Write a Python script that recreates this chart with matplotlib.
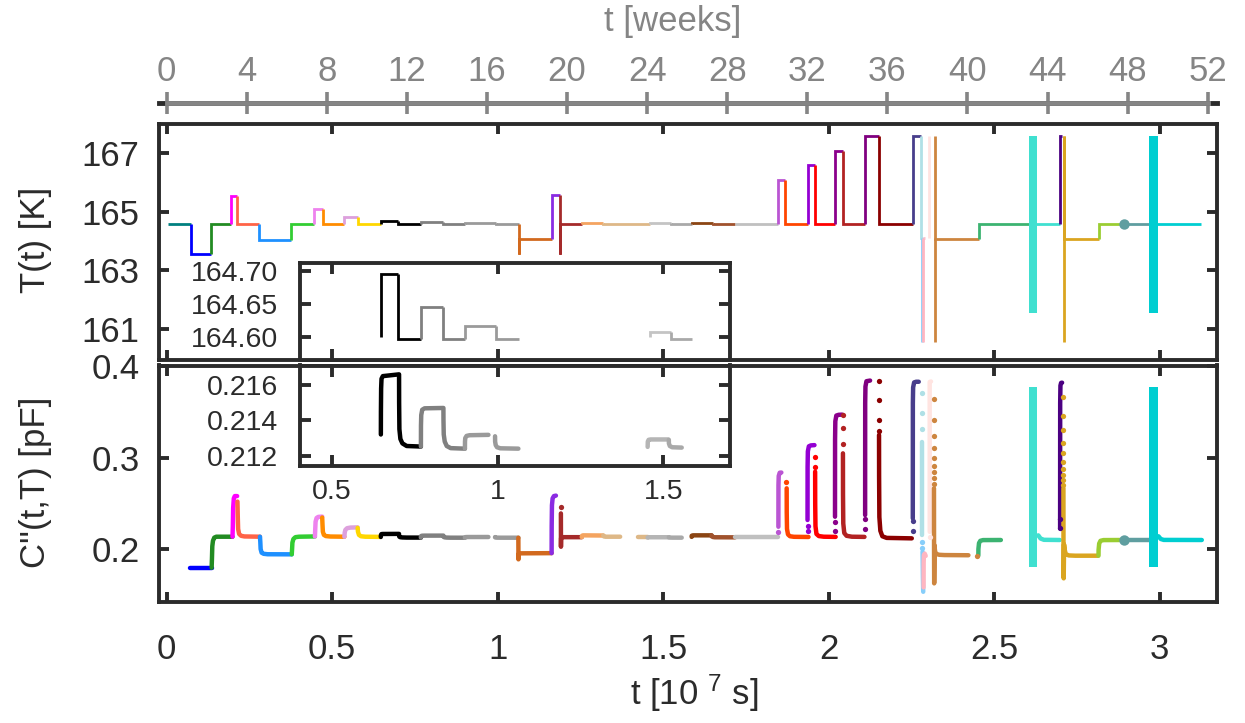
import matplotlib
matplotlib.use('Agg')
import matplotlib.pyplot as plt

plt.rcParams['font.family'] = ['Liberation Sans', 'DejaVu Sans']
plt.rcParams['mathtext.default'] = 'regular'

FRAME = '#2b2b2b'
GREY = '#858585'

# ---------------- data (t in 1e7 s) ----------------
# temperature programme: step segments
seg_t0 = [0.005, 0.073, 0.133, 0.196, 0.214, 0.280, 0.375, 0.444, 0.471, 0.537, 0.577,
          0.647, 0.700, 0.767, 0.836, 0.900, 0.994, 1.063, 1.163, 1.188, 1.254, 1.319,
          1.460, 1.523, 1.586, 1.649, 1.717, 1.848, 1.867, 1.938, 1.959, 2.019, 2.044,
          2.109, 2.151, 2.254, 2.278, 2.284, 2.320, 2.453, 2.606, 2.698, 2.710, 2.815,
          2.885, 2.975]
seg_t1 = [0.073, 0.133, 0.196, 0.214, 0.280, 0.375, 0.444, 0.471, 0.537, 0.577, 0.647,
          0.700, 0.767, 0.836, 0.900, 0.994, 1.063, 1.163, 1.188, 1.254, 1.319, 1.460,
          1.523, 1.586, 1.649, 1.717, 1.848, 1.867, 1.938, 1.959, 2.019, 2.044, 2.109,
          2.151, 2.254, 2.278, 2.284, 2.291, 2.453, 2.606, 2.698, 2.705, 2.815, 2.885,
          2.975, 3.124]
seg_T = [164.6, 163.55, 164.6, 165.55, 164.6, 164.05, 164.6, 165.1, 164.6, 164.83, 164.6,
         164.695, 164.597, 164.645, 164.597, 164.617, 164.597, 164.06, 165.59, 164.6,
         164.62, 164.6, 164.608, 164.597, 164.62, 164.6, 164.6, 166.08, 164.6, 166.59,
         164.6, 167.08, 164.6, 167.58, 164.6, 167.6, 164.1, 164.1, 164.06, 164.6, 164.6,
         167.6, 164.06, 164.6, 164.6, 164.6]
seg_spike = {17: 163.55, 19: 163.55}
seg_color = ['#008080', '#0000ff', '#228b22', '#ff00ff', '#ff6347', '#1e90ff', '#32cd32',
             '#ee82ee', '#ff8c00', '#dda0dd', '#ffd700', '#000000', '#000000', '#808080',
             '#808080', '#9a9a9a', '#9a9a9a', '#d2691e', '#8a2be2', '#a52a2a', '#f4a460',
             '#deb887', '#c4c4c4', '#a9a9a9', '#8b4513', '#a0522d', '#c0c0c0', '#ba55d3',
             '#ff4500', '#9400d3', '#ff0000', '#8b008b', '#b22222', '#800080', '#8b0000',
             '#483d8b', '#b0e0e6', '#ffc0cb', '#cd853f', '#3cb371', '#40e0d0', '#4b0082',
             '#daa520', '#9acd32', '#5f9ea0', '#00ced1']
inset_segments = [11, 12, 13, 14, 15, 16, 22, 23]

# fast temperature excursions (vertical strokes)
exc_t = [2.281, 2.286, 2.302, 2.320, 2.710]
exc_lo = [160.55, 160.55, 164.1, 160.55, 160.55]
exc_hi = [164.1, 164.1, 167.6, 167.6, 167.6]
exc_color = ['#87cefa', '#ffb6c1', '#ffe4e1', '#cd853f', '#daa520']

# cycling blocks (dense oscillations)
band_t0 = [2.606, 2.967]
band_t1 = [2.630, 2.994]
band_T_lo = [161.55, 161.55]
band_T_hi = [167.6, 167.6]
band_C_lo = [0.1806, 0.1806]
band_C_hi = [0.3778, 0.3778]
band_color = ['#40e0d0', '#00ced1']

mark_t = [2.893]
mark_T = [164.6]
mark_C = [0.2099]
mark_color = ['#5f9ea0']

# capacitance curves
c_color = ['#0000ff', '#228b22', '#ff00ff', '#ff6347', '#1e90ff', '#32cd32', '#ee82ee',
           '#ff8c00', '#dda0dd', '#ffd700', '#000000', '#808080', '#9a9a9a', '#9a9a9a',
           '#d2691e', '#8a2be2', '#a52a2a', '#f4a460', '#deb887', '#deb887', '#b5b5b5',
           '#a9a9a9', '#8b4513', '#a0522d', '#c0c0c0', '#ba55d3', '#ff4500', '#9400d3',
           '#ff0000', '#8b008b', '#b22222', '#800080', '#8b0000', '#483d8b', '#b0e0e6',
           '#87cefa', '#ffb6c1', '#ffe4e1', '#cd853f', '#3cb371', '#40e0d0', '#4b0082',
           '#daa520', '#9acd32', '#5f9ea0', '#00ced1']
c_t = [
    [0.070, 0.136],
    [0.136, 0.137, 0.138, 0.140, 0.144, 0.150, 0.199],
    [0.199, 0.200, 0.201, 0.203, 0.206, 0.213],
    [0.214, 0.215, 0.216, 0.219, 0.225, 0.235, 0.282],
    [0.282, 0.283, 0.284, 0.287, 0.293, 0.305, 0.378],
    [0.378, 0.379, 0.380, 0.383, 0.389, 0.400, 0.448],
    [0.448, 0.449, 0.450, 0.453, 0.458, 0.470],
    [0.470, 0.471, 0.472, 0.475, 0.481, 0.495, 0.537],
    [0.537, 0.538, 0.540, 0.545, 0.555, 0.577],
    [0.577, 0.578, 0.581, 0.587, 0.600, 0.645],
    [0.647, 0.6472, 0.6478, 0.649, 0.653, 0.702, 0.7022, 0.703, 0.706, 0.712, 0.725, 0.768],
    [0.768, 0.7682, 0.769, 0.772, 0.779, 0.836, 0.8362, 0.837, 0.840, 0.846, 0.858, 0.901],
    [0.901, 0.9012, 0.902, 0.906, 0.915, 0.972],
    [0.992, 0.9922, 0.994, 0.998, 1.008, 1.0625],
    [1.0625, 1.0628, 1.0632, 1.064, 1.070, 1.163],
    [1.163, 1.1632, 1.164, 1.166, 1.170, 1.176],
    [1.191, 1.1912, 1.1916, 1.193, 1.254],
    [1.254, 1.255, 1.258, 1.319],
    [1.319, 1.321, 1.326, 1.370],
    [1.425, 1.453],
    [1.453, 1.4535, 1.456, 1.462, 1.515],
    [1.517, 1.5172, 1.520, 1.527, 1.556],
    [1.586, 1.5862, 1.590, 1.646],
    [1.646, 1.6462, 1.650, 1.656, 1.717],
    [1.717, 1.846],
    [1.848, 1.8482, 1.849, 1.852, 1.857],
    [1.873, 1.8732, 1.874, 1.877, 1.883, 1.895, 1.939],
    [1.936, 1.9362, 1.937, 1.940, 1.946, 1.957],
    [1.959, 1.9592, 1.960, 1.963, 1.970, 1.985, 2.021],
    [2.019, 2.0192, 2.020, 2.023, 2.030, 2.041],
    [2.043, 2.0432, 2.044, 2.047, 2.054, 2.070, 2.108],
    [2.110, 2.1102, 2.111, 2.114, 2.125],
    [2.152, 2.1522, 2.153, 2.156, 2.162, 2.175, 2.251],
    [2.254, 2.2542, 2.255, 2.258, 2.264, 2.272],
    [2.281, 2.281],
    [2.2835, 2.2845, 2.2855],
    [2.2865, 2.2868, 2.2875, 2.290, 2.293],
    [2.309, 2.305, 2.3052],
    [2.318, 2.3182, 2.3186, 2.3192, 2.3198, 2.3205, 2.322, 2.326, 2.334, 2.350, 2.422],
    [2.452, 2.4522, 2.454, 2.458, 2.466, 2.520],
    [2.633, 2.640, 2.650, 2.698],
    [2.699, 2.6992, 2.700, 2.702, 2.705],
    [2.709, 2.7092, 2.7098, 2.7104, 2.711, 2.713, 2.716, 2.725, 2.745, 2.813],
    [2.815, 2.8152, 2.817, 2.821, 2.830, 2.885],
    [2.885, 2.970],
    [2.996, 3.003, 3.012, 3.127],
]
c_val = [
    [0.1795, 0.1795],
    [0.1795, 0.190, 0.203, 0.209, 0.2125, 0.2135, 0.2135],
    [0.2135, 0.225, 0.245, 0.2555, 0.258, 0.258],
    [0.252, 0.235, 0.222, 0.2165, 0.2145, 0.2138, 0.2135],
    [0.2135, 0.208, 0.200, 0.196, 0.1948, 0.1943, 0.1942],
    [0.1942, 0.200, 0.207, 0.211, 0.213, 0.2135, 0.2138],
    [0.2138, 0.222, 0.230, 0.234, 0.2352, 0.2355],
    [0.2345, 0.226, 0.219, 0.2155, 0.2142, 0.2137, 0.2135],
    [0.2135, 0.218, 0.221, 0.2228, 0.2235, 0.2237],
    [0.2232, 0.219, 0.2155, 0.214, 0.2135, 0.2133],
    [0.2132, 0.2145, 0.2158, 0.21635, 0.2165, 0.2166, 0.2150, 0.2135, 0.21295, 0.2127, 0.21255, 0.21252],
    [0.21252, 0.2137, 0.2143, 0.2146, 0.21468, 0.2147, 0.2140, 0.2132, 0.2128, 0.21255, 0.21243, 0.2124],
    [0.2124, 0.2128, 0.2130, 0.21312, 0.21316, 0.21318],
    [0.2131, 0.2128, 0.2126, 0.21248, 0.21242, 0.2124],
    [0.2124, 0.1887, 0.1930, 0.1950, 0.1953, 0.1955],
    [0.1955, 0.225, 0.248, 0.2555, 0.258, 0.2585],
    [0.239, 0.2025, 0.2120, 0.2130, 0.2130],
    [0.2130, 0.2146, 0.2150, 0.2148],
    [0.2148, 0.2138, 0.2135, 0.2135],
    [0.2135, 0.2135],
    [0.2125, 0.2128, 0.2129, 0.21292, 0.21292],
    [0.2129, 0.2127, 0.21255, 0.21248, 0.21246],
    [0.2133, 0.2146, 0.2150, 0.2150],
    [0.2150, 0.2140, 0.2132, 0.2129, 0.2128],
    [0.2128, 0.2128],
    [0.2244, 0.270, 0.280, 0.2836, 0.2838],
    [0.2665, 0.240, 0.222, 0.216, 0.214, 0.2134, 0.2132],
    [0.2318, 0.290, 0.307, 0.3125, 0.3135, 0.3138],
    [0.2847, 0.250, 0.225, 0.2165, 0.2142, 0.2135, 0.2133],
    [0.2354, 0.320, 0.340, 0.3462, 0.3470, 0.3472],
    [0.3048, 0.260, 0.228, 0.2175, 0.2145, 0.2135, 0.2133],
    [0.2372, 0.360, 0.378, 0.3838, 0.3845],
    [0.3249, 0.280, 0.235, 0.220, 0.214, 0.2122, 0.2117],
    [0.2336, 0.360, 0.377, 0.3825, 0.3832, 0.3832],
    [0.3175, 0.2153],
    [0.197, 0.170, 0.1532],
    [0.158, 0.185, 0.1935, 0.1950, 0.1925],
    [0.3835, 0.383, 0.2188],
    [0.2665, 0.200, 0.1624, 0.180, 0.2040, 0.2000, 0.1960, 0.1945, 0.1937, 0.1934, 0.1932],
    [0.1930, 0.2000, 0.2065, 0.2090, 0.2098, 0.2099],
    [0.2150, 0.2115, 0.2101, 0.2099],
    [0.2226, 0.360, 0.379, 0.382, 0.3822],
    [0.2665, 0.200, 0.1679, 0.185, 0.205, 0.199, 0.1945, 0.1930, 0.1927, 0.1927],
    [0.1927, 0.199, 0.206, 0.209, 0.2098, 0.2099],
    [0.2099, 0.2099],
    [0.2140, 0.2110, 0.2100, 0.2099],
]
inset_curves = [10, 11, 12, 13, 20, 21]

# isolated sample points during fast transients
dot_t = [1.1905, 1.848, 1.870, 1.936, 1.936, 1.959, 1.959, 2.019, 2.019,
         2.043, 2.043, 2.043, 2.110, 2.110, 2.152, 2.152, 2.152, 2.152,
         2.254, 2.254, 2.281, 2.281, 2.281, 2.282, 2.282, 2.305,
         2.317, 2.317, 2.317, 2.317, 2.317, 2.317, 2.317, 2.317, 2.317, 2.447,
         2.699, 2.699,
         2.709, 2.709, 2.709, 2.709, 2.709, 2.709, 2.709, 2.709, 2.709, 2.709]
dot_C = [0.2463, 0.219, 0.273, 0.2255, 0.2197, 0.301, 0.290, 0.2299, 0.2200,
         0.3468, 0.3322, 0.3147, 0.2325, 0.2216, 0.3843, 0.3632, 0.3413, 0.3296,
         0.231, 0.220, 0.3705, 0.349, 0.332, 0.208, 0.2007, 0.2128,
         0.3640, 0.3413, 0.3241, 0.3110, 0.3000, 0.2912, 0.2840, 0.2774, 0.2709, 0.1925,
         0.2325, 0.2234,
         0.3668, 0.3460, 0.3300, 0.3158, 0.3048, 0.2950, 0.2876, 0.2811, 0.2756, 0.2701]
dot_color = ['#a52a2a', '#ba55d3', '#ff4500', '#9400d3', '#9400d3', '#ff0000', '#ff0000',
             '#8b008b', '#8b008b', '#b22222', '#b22222', '#b22222', '#800080', '#800080',
             '#8b0000', '#8b0000', '#8b0000', '#8b0000', '#483d8b', '#483d8b',
             '#b0e0e6', '#b0e0e6', '#b0e0e6', '#87cefa', '#87cefa', '#ffe4e1'] + \
            ['#cd853f'] * 10 + ['#4b0082'] * 2 + ['#daa520'] * 10

x_ticks = [0, 0.5, 1, 1.5, 2, 2.5, 3]
x_ticklabels = ['0', '0.5', '1', '1.5', '2', '2.5', '3']
T_ticks = [161, 163, 165, 167]
C_ticks = [0.2, 0.3, 0.4]
C_ticklabels = ['0.2', '0.3', '0.4']
week_ticks = list(range(0, 53, 4))
inset_T_ticks = [164.60, 164.65, 164.70]
inset_C_ticks = [0.212, 0.214, 0.216]
inset_x_ticks = [0.5, 1, 1.5]
SEC_PER_WEEK_1E7 = 604800 / 1e7


# ---------------- drawing helpers ----------------
def draw_T_segments(ax, lw, which):
    for i in which:
        t0, t1, T, col = seg_t0[i], seg_t1[i], seg_T[i], seg_color[i]
        prev = seg_T[i - 1] if i > 0 else T
        if i in seg_spike:
            xs, ys = [t0, t0, t0, t1], [prev, seg_spike[i], T, T]
        else:
            xs, ys = [t0, t0, t1], [prev, T, T]
        ax.plot(xs, ys, color=col, lw=lw, solid_joinstyle='miter', solid_capstyle='butt')


def draw_T(ax, lw):
    draw_T_segments(ax, lw, range(len(seg_T)))
    for t, lo, hi, col in zip(exc_t, exc_lo, exc_hi, exc_color):
        ax.plot([t, t], [lo, hi], color=col, lw=lw, solid_capstyle='butt')
    for t0, t1, lo, hi, col in zip(band_t0, band_t1, band_T_lo, band_T_hi, band_color):
        ax.fill_between([t0, t1], [lo, lo], [hi, hi], color=col, lw=0, zorder=3)
    for t, T, col in zip(mark_t, mark_T, mark_color):
        ax.plot([t], [T], 'o', ms=7.5, color=col, mec='none', zorder=4)


def draw_C_curves(ax, lw, which):
    for i in which:
        ax.plot(c_t[i], c_val[i], color=c_color[i], lw=lw,
                solid_capstyle='round', solid_joinstyle='round')


def draw_C(ax, lw, ms):
    draw_C_curves(ax, lw, range(len(c_t)))
    for t, c, col in zip(dot_t, dot_C, dot_color):
        ax.plot([t], [c], 'o', ms=ms, color=col, mec='none')
    for t0, t1, lo, hi, col in zip(band_t0, band_t1, band_C_lo, band_C_hi, band_color):
        ax.fill_between([t0, t1], [lo, lo], [hi, hi], color=col, lw=0, zorder=3)
    for t, c, col in zip(mark_t, mark_C, mark_color):
        ax.plot([t], [c], 'o', ms=7.5, color=col, mec='none', zorder=4)


def style(ax, size, length=7, pad=8):
    for s in ax.spines.values():
        s.set_linewidth(2.8)
        s.set_color(FRAME)
    ax.tick_params(which='both', direction='in', length=length, width=2.8, color=FRAME,
                   top=True, right=True, labelsize=size, labelcolor=FRAME, pad=pad)


W, H = 1245, 723
fig = plt.figure(figsize=(W / 100, H / 100), dpi=100)

L, R = 159, 1216.7
XLIM = (-0.023, 3.172)

ax1 = fig.add_axes([L / W, 1 - 359.5 / H, (R - L) / W, (359.5 - 124) / H])
ax2 = fig.add_axes([L / W, 1 - 602 / H, (R - L) / W, (602 - 365.5) / H])

draw_T(ax1, 2.0)
ax1.set_xlim(*XLIM)
ax1.set_ylim(159.96, 168.0)
ax1.set_xticks(x_ticks)
ax1.set_xticklabels([])
ax1.set_yticks(T_ticks)
ax1.set_yticklabels([str(v) for v in T_ticks])
style(ax1, 25, pad=14)

draw_C(ax2, 3.2, 3.8)
ax2.set_xlim(*XLIM)
ax2.set_ylim(0.142, 0.401)
ax2.set_xticks(x_ticks)
ax2.set_xticklabels(x_ticklabels)
ax2.set_yticks(C_ticks)
ax2.set_yticklabels(C_ticklabels)
style(ax2, 25, pad=14)
ax2.tick_params(axis='x', pad=22)

# insets: zoom on the small steps
IL, IR = 300, 729.5
ix0 = (IL - 166.7) / 331
ix1 = (IR - 166.7) / 331
in1 = fig.add_axes([IL / W, 1 - 359.5 / H, (IR - IL) / W, (359.5 - 263.3) / H], zorder=5)
draw_T_segments(in1, 2.0, inset_segments)
in1.set_xlim(ix0, ix1)
in1.set_ylim(164.5655, 164.7117)
in1.set_xticks(inset_x_ticks)
in1.set_xticklabels([])
in1.set_yticks(inset_T_ticks)
in1.set_yticklabels(['%.2f' % v for v in inset_T_ticks])
style(in1, 20.5, length=8, pad=16)

in2 = fig.add_axes([IL / W, 1 - 466 / H, (IR - IL) / W, (466 - 365.5) / H], zorder=5)
draw_C_curves(in2, 3.2, inset_curves)
in2.set_xlim(ix0, ix1)
in2.set_ylim(0.21142, 0.2171)
in2.set_xticks(inset_x_ticks)
in2.set_xticklabels(['0.5', '1', '1.5'])
in2.set_yticks(inset_C_ticks)
in2.set_yticklabels(['%.3f' % v for v in inset_C_ticks])
style(in2, 20.5, length=8, pad=16)
in2.tick_params(axis='x', pad=9)

# top axis in weeks
axw = fig.add_axes([L / W, 1 - 103 / H, (R - L) / W, 0.0001])
axw.patch.set_visible(False)
axw.set_xlim(XLIM[0] / SEC_PER_WEEK_1E7, XLIM[1] / SEC_PER_WEEK_1E7)
for k in ['left', 'right', 'top']:
    axw.spines[k].set_visible(False)
axw.spines['bottom'].set_color(FRAME)
axw.spines['bottom'].set_linewidth(3.5)
axw.set_yticks([])
axw.set_xticks(week_ticks)
axw.set_xticklabels([str(w) for w in week_ticks])
axw.tick_params(axis='x', direction='inout', length=16, width=2.6, color=GREY,
                labelcolor=GREY, labelsize=25, bottom=False, top=True,
                labelbottom=False, labeltop=True, pad=3)
axw.spines['top'].set_visible(True)
axw.spines['top'].set_color(GREY)
axw.spines['top'].set_linewidth(3.5)
axw.spines['top'].set_bounds(0, 52)
axw.spines['top'].set_zorder(3)

fig.text(673 / W, 1 - 22 / H, 't [weeks]', color=GREY, fontsize=25, ha='center', va='center')
fig.text(694 / W, 1 - 693 / H, 't [10 $^{7}$ s]', color=FRAME, fontsize=25,
         ha='center', va='center')
fig.text(35 / W, 1 - 240 / H, 'T(t) [K]', color=FRAME, fontsize=25, rotation=90,
         ha='center', va='center')
fig.text(35 / W, 1 - 482 / H, "C''(t,T) [pF]", color=FRAME, fontsize=25, rotation=90,
         ha='center', va='center')

fig.savefig('out.png', dpi=100)
